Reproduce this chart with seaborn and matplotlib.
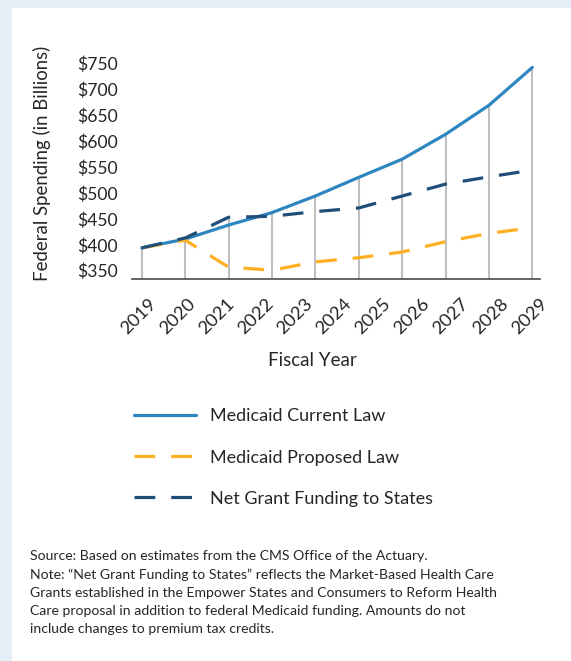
import numpy as np
import pandas as pd
import matplotlib.pyplot as plt
import matplotlib.transforms as mtransforms
import seaborn as sns
from matplotlib.patches import Rectangle

# Data (billions of dollars)
years = [2019, 2020, 2021, 2022, 2023, 2024, 2025, 2026, 2027, 2028, 2029]
point_idx = list(range(10))
current_law = [394, 411, 438, 462, 494, 530, 565, 613, 669, 742]
proposed_law = [394, 409, 357, 351, 367, 375, 386, 406, 422, 433]
net_grant = [394, 413, 453, 455, 464, 471, 494, 517, 531, 544]
yticks = [350, 400, 450, 500, 550, 600, 650, 700, 750]

series_names = ["Medicaid Current Law", "Medicaid Proposed Law", "Net Grant Funding to States"]
colors = ["#2e86c1", "#fdb022", "#1f4e79"]

df = pd.DataFrame({
    "idx": point_idx * 3,
    "value": current_law + proposed_law + net_grant,
    "series": [series_names[0]] * 10 + [series_names[1]] * 10 + [series_names[2]] * 10,
})

sns.set_theme(style="white")
plt.rcParams["font.family"] = ["Lato", "DejaVu Sans"]
plt.rcParams["text.color"] = "#262626"

fig = plt.figure(figsize=(5.71, 6.61), dpi=100)
fig.patch.set_facecolor("#e3eef7")
fig.patches.append(Rectangle((12 / 571, 0), 1, 1 - 8 / 661, transform=fig.transFigure,
                             facecolor="white", edgecolor="none", zorder=-10))

ax = fig.add_axes([132 / 571, (661 - 279) / 661, 408 / 571, 220.9 / 661])
ax.set_facecolor("none")

ymin, ymax = 334, 760
# drop lines from the highest series down to the axis
tops = np.max([current_law, proposed_law, net_grant], axis=0)
ax.vlines(point_idx, ymin, tops, color="#bfbfbf", lw=1.5, zorder=1)

sns.lineplot(data=df, x="idx", y="value", hue="series", style="series",
             palette=colors, dashes=[(None, None), (6.5, 5), (6.5, 5)],
             linewidth=2.3, ax=ax, legend=False, zorder=3)

ax.set_xlim(-0.224, 9.177)
ax.set_ylim(ymin, ymax)
ax.set_yticks(yticks)
ax.set_yticklabels([f"${v}" for v in yticks], fontsize=12.6)
ax.tick_params(axis="y", length=0, pad=10)
ax.set_xticks(np.linspace(0, 9, len(years)))
ax.set_xticklabels(years, fontsize=13.2, rotation=45, ha="center")
ax.tick_params(axis="x", length=0, pad=12)
shift = mtransforms.ScaledTranslation(-3 / 100, 0, fig.dpi_scale_trans)
for lab in ax.get_xticklabels():
    lab.set_transform(lab.get_transform() + shift)

for s in ["top", "right", "left"]:
    ax.spines[s].set_visible(False)
ax.spines["bottom"].set_color("#595959")
ax.spines["bottom"].set_linewidth(1.3)
ax.set_xlabel("")
ax.set_ylabel("")

fig.text(42 / 571, 1 - 163 / 661, "Federal Spending (in Billions)", rotation=90,
         ha="center", va="center", fontsize=13.4)
fig.text(312 / 571, 1 - 361 / 661, "Fiscal Year", ha="center", va="center", fontsize=13.5)

# legend
handles = [plt.Line2D([], [], color=colors[0], lw=2.3),
           plt.Line2D([], [], color=colors[1], lw=2.3, dashes=(6.5, 5)),
           plt.Line2D([], [], color=colors[2], lw=2.3, dashes=(6.5, 5))]
fig.legend(handles, series_names, loc="upper left", bbox_to_anchor=(118 / 571, 1 - 392 / 661),
           frameon=False, fontsize=13, handlelength=3.4, handletextpad=0.8,
           labelspacing=1.4)

note = ("Source: Based on estimates from the CMS Office of the Actuary.\n"
        "Note: \u201cNet Grant Funding to States\u201d reflects the Market-Based Health Care\n"
        "Grants established in the Empower States and Consumers to Reform Health\n"
        "Care proposal in addition to federal Medicaid funding. Amounts do not\n"
        "include changes to premium tax credits.")
fig.text(30 / 571, 1 - 550 / 661, note, ha="left", va="top", fontsize=10.1, linespacing=1.6)

fig.savefig("out.png", dpi=100)
